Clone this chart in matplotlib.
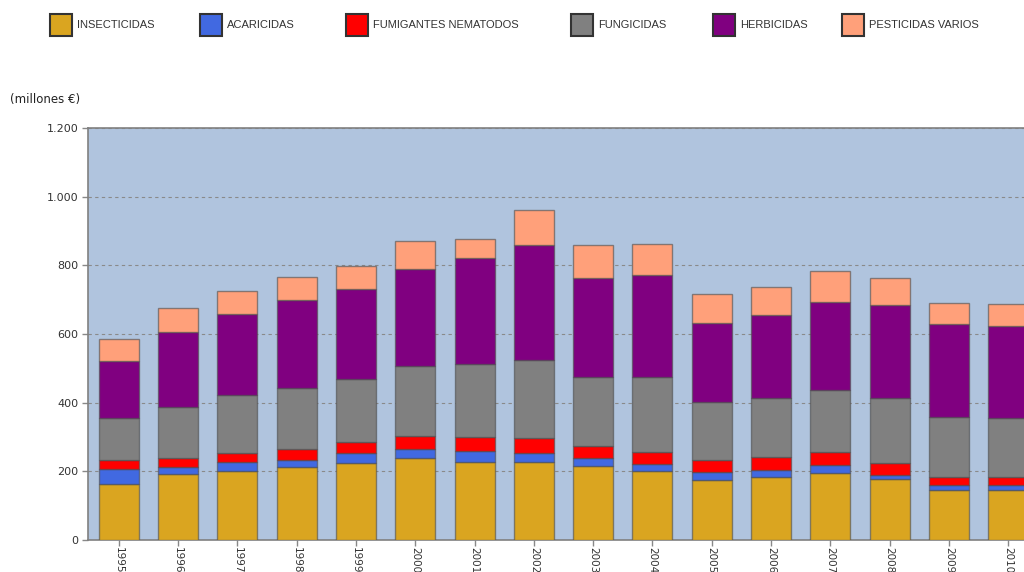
import numpy as np
import matplotlib.pyplot as plt
from matplotlib.patches import Rectangle
from matplotlib.ticker import FuncFormatter

plt.rcParams["font.family"] = ["Liberation Sans", "DejaVu Sans"]

years = [str(y) for y in range(1995, 2011)]
series_names = ["INSECTICIDAS", "ACARICIDAS", "FUMIGANTES NEMATODOS",
                "FUNGICIDAS", "HERBICIDAS", "PESTICIDAS VARIOS"]

# millones de euros
insecticidas = [163, 191, 201, 213, 224, 238, 227, 227, 216, 201, 176, 184, 194, 177, 147, 147]
acaricidas = [45, 23, 25, 21, 29, 26, 33, 26, 22, 21, 22, 21, 25, 12, 13, 13]
fumigantes = [24, 25, 28, 31, 33, 40, 41, 45, 35, 35, 36, 37, 38, 35, 24, 24]
fungicidas = [122, 148, 167, 177, 182, 204, 211, 227, 202, 218, 167, 172, 181, 190, 174, 171]
herbicidas = [168, 219, 237, 257, 263, 281, 310, 334, 289, 296, 232, 241, 256, 270, 271, 269]
pesticidas_varios = [62, 70, 67, 67, 67, 83, 54, 101, 94, 90, 83, 82, 90, 79, 61, 63]

colors = ["#DAA520", "#4169E1", "#FF0000", "#808080", "#800080", "#FFA07A"]

fig = plt.figure(figsize=(10.24, 5.72), dpi=100)
W, H = 1024, 572
# plot area runs past the right edge of the picture, as in the original
ax = fig.add_axes([88 / W, (H - 540) / H, (1039 - 88) / W, (540 - 128) / H])
ax.set_facecolor("#B0C4DE")

x = np.arange(len(years))
bottom = np.zeros(len(years))
all_series = [insecticidas, acaricidas, fumigantes, fungicidas, herbicidas, pesticidas_varios]
for vals, col, name in zip(all_series, colors, series_names):
    ax.bar(x, vals, bottom=bottom, width=0.675, color=col,
           edgecolor=(0.3, 0.3, 0.3, 0.6), linewidth=1, label=name, zorder=3)
    bottom += np.array(vals)

ax.set_xlim(-0.52, len(years) - 0.48)
ax.set_ylim(0, 1200)
ax.set_yticks(range(0, 1201, 200))
ax.yaxis.set_major_formatter(FuncFormatter(lambda v, p: f"{int(v):,}".replace(",", ".")))
ax.set_xticks(x)
ax.set_xticklabels(years, rotation=-90)

ax.grid(axis="y", color="#8a8a8a", linestyle=(0, (3, 3)), linewidth=0.8, zorder=1)
ax.tick_params(axis="both", colors="#888888", labelcolor="#333333",
               length=4, width=1)
ax.tick_params(axis="y", pad=3, labelsize=8)
ax.tick_params(axis="x", pad=1, labelsize=7.5)
for lab in ax.get_xticklabels() + ax.get_yticklabels():
    lab.set_family("DejaVu Sans")
for side in ["left", "bottom", "top"]:
    ax.spines[side].set_color("#808080")
    ax.spines[side].set_linewidth(1.2)
ax.spines["right"].set_visible(False)

fig.text(10 / W, 1 - 100 / H, "(millones €)", fontsize=8.5, color="#222222",
         va="center", ha="left", family="DejaVu Sans")

# legend row along the top
legend_x = [50, 200, 346, 571, 713, 842]
for lx, col, name in zip(legend_x, colors, series_names):
    fig.add_artist(Rectangle((lx / W, 1 - 36 / H), 22 / W, 22 / H,
                             transform=fig.transFigure, facecolor=col,
                             edgecolor="#333333", linewidth=1.5))
    fig.text((lx + 27) / W, 1 - 25 / H, name, fontsize=8, color="#333333",
             va="center", ha="left")

fig.savefig("out.png", dpi=100)
